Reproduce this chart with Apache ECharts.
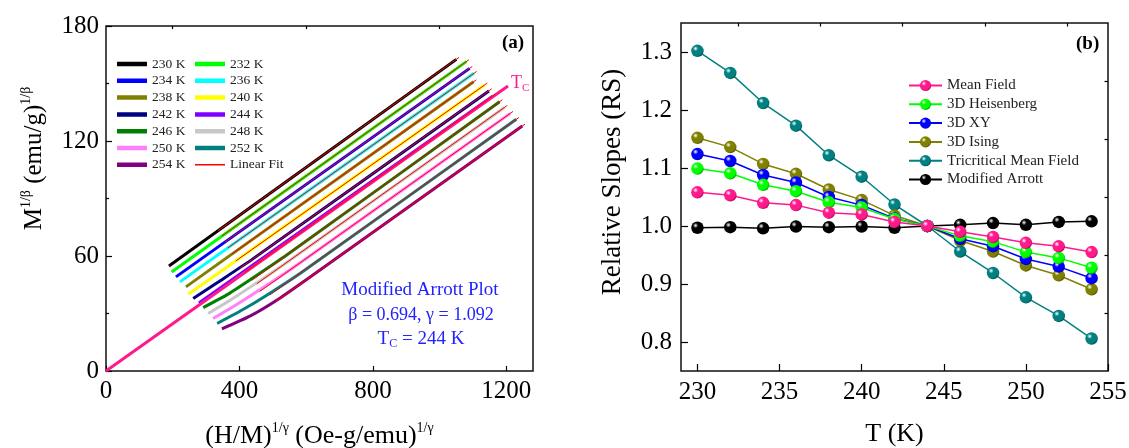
<!DOCTYPE html>
<html>
<head>
<meta charset="utf-8">
<script src="https://cdn.jsdelivr.net/npm/echarts@6/dist/echarts.min.js"></script>
<style>html,body{margin:0;padding:0;background:#fff}#c{width:1129px;height:448px}</style>
</head>
<body>
<div id="c"></div>
<script>
// ---------- Panel (a): Modified Arrott plot ----------
const tempNames = ['230 K','232 K','234 K','236 K','238 K','240 K','242 K','244 K','246 K','248 K','250 K','252 K','254 K'];
const c230 = [[188.7,54.8],[1050.2,162.6]];
const c232 = [[196.7,51.7],[1080.2,161.4]];
const c234 = [[209.6,49.1],[1090.1,157.9]];
const c236 = [[221.6,46.5],[1102.9,155.3]];
const c238 = [[239.6,43.9],[1102.1,150.9]];
const c240 = [[246.5,40.1],[351.3,52.8],[1135.0,149.2]];
const c242 = [[261.4,37.8],[335.4,46.3],[440.2,58.5],[1147.9,146.1]];
const c244 = [[278.5,35.5],[1160.0,143.5]];
const c246 = [[291.4,33.1],[366.3,40.1],[441.1,48.6],[545.9,61.0],[1179.9,140.5]];
const c248 = [[306.4,30.0],[381.2,38.0],[456.1,46.5],[560.9,59.0],[1194.9,137.5]];
const c250 = [[321.0,27.4],[394.3,35.0],[469.2,43.3],[575.9,55.7],[1211.9,134.4]];
const c252 = [[333.3,24.8],[408.2,31.8],[483.0,39.7],[587.9,51.7],[1229.9,131.3]];
const c254 = [[347.4,22.0],[431.2,28.6],[521.1,38.0],[610.9,48.9],[1247.9,127.8]];
const f230 = [[335,73.1],[1058,163.6]];
const f232 = [[347,70.4],[1088,162.4]];
const f234 = [[356,67.2],[1098,158.9]];
const f236 = [[365,64.2],[1111,156.3]];
const f238 = [[377,61.0],[1110,151.9]];
const f240 = [[389,57.4],[1143,150.2]];
const f242 = [[401,53.6],[1156,147.2]];
const f244 = [[416,51.5],[1168,144.5]];
const f246 = [[437,47.3],[1188,141.5]];
const f248 = [[452,45.5],[1203,138.6]];
const f250 = [[461,41.5],[1220,135.4]];
const f252 = [[491,39.7],[1238,132.3]];
const f254 = [[506,35.9],[1256,128.8]];
const tcLine = [[0,0],[1205,148.7]];
const aXTicks = [0,400,800,1200];
const aXMinor = [200,600,1000];

// ---------- Panel (b): Relative slopes ----------
const T = [230,232,234,236,238,240,242,244,246,248,250,252,254];
const meanField   = [1.058,1.053,1.040,1.036,1.023,1.020,1.007,1.000,0.990,0.981,0.971,0.965,0.955];
const heisenberg  = [1.099,1.091,1.071,1.060,1.041,1.032,1.012,1.000,0.983,0.973,0.955,0.945,0.928];
const xy3d        = [1.124,1.112,1.088,1.075,1.050,1.036,1.013,1.000,0.978,0.965,0.943,0.930,0.910];
const ising3d     = [1.152,1.136,1.107,1.090,1.063,1.045,1.018,1.000,0.975,0.956,0.932,0.915,0.891];
const tricritical = [1.302,1.264,1.212,1.173,1.122,1.085,1.037,1.000,0.956,0.919,0.877,0.845,0.806];
const modArrott   = [0.997,0.998,0.996,0.999,0.998,0.999,0.997,1.000,1.002,1.005,1.002,1.007,1.008];
const bXTicks = [230,235,240,245,250,255];
const bXMinor = [232.5,237.5,242.5,247.5,252.5];
const bYTicks = [0.8,0.9,1.0,1.1,1.2,1.3];
const bYMinor = [0.85,0.95,1.05,1.15,1.25];

// ---------- styles ----------
const FONT = '"Liberation Serif","Times New Roman",serif';
const curves = [c230,c232,c234,c236,c238,c240,c242,c244,c246,c248,c250,c252,c254];
const fits = [f230,f232,f234,f236,f238,f240,f242,f244,f246,f248,f250,f252,f254];
const tColors = ['#000000','#00ff00','#0000ff','#00ffff','#808000','#ffff00','#000080','#8000ff','#008000','#c8c8c8','#ff80ff','#008080','#800080'];
const PINK = '#ff1a8c';
const barIcon = 'path://M0,0h0.1M0,14h0.1M0,4.75h30v4.5h-30z';
const thinIcon = 'path://M0,0h0.1M0,14h0.1M0,6.3h30v1.4h-30z';

function ball(c, dark) {
  return {type:'radial', x:0.35, y:0.32, r:0.75, colorStops:[
    {offset:0, color:'#ffffff'}, {offset:0.28, color:c}, {offset:0.75, color:c}, {offset:1, color:dark}]};
}

const series = [];
curves.forEach((d,i) => {
  series.push({type:'line', name: tempNames[i], xAxisIndex:0, yAxisIndex:0, data:d, symbol:'none',
    smooth:0.2, lineStyle:{color:tColors[i], width:3}, itemStyle:{color:tColors[i]}, z:2, silent:true});
});
series.push({type:'line', name:'Tc', xAxisIndex:0, yAxisIndex:0, data:tcLine, symbol:'none',
  lineStyle:{color:PINK, width:3}, itemStyle:{color:PINK}, z:3, silent:true,
  endLabel:{show:true, distance:3, offset:[0,-3], formatter:'{t|T}{s|C}',
    rich:{t:{fontFamily:FONT, fontSize:18, color:PINK, lineHeight:22},
          s:{fontFamily:FONT, fontSize:11, color:PINK, lineHeight:10, verticalAlign:'bottom'}}}});
fits.forEach((d) => {
  series.push({type:'line', name:'Linear Fit', xAxisIndex:0, yAxisIndex:0, data:d, symbol:'none',
    lineStyle:{color:'#ff0000', width:1}, itemStyle:{color:'#ff0000'}, z:4, silent:true});
});

const bSeries = [
  ['Modified Arrott', modArrott, '#000000', '#000000', 2],
  ['Tricritical Mean Field', tricritical, '#008080', '#004848', 3],
  ['3D Ising', ising3d, '#808000', '#474700', 4],
  ['3D XY', xy3d, '#0000ff', '#000090', 5],
  ['3D Heisenberg', heisenberg, '#00ff00', '#009000', 6],
  ['Mean Field', meanField, PINK, '#a0004f', 7]
];
bSeries.forEach(([n, vals, c, dk, z]) => {
  series.push({type:'line', name:n, xAxisIndex:2, yAxisIndex:1,
    data: T.map((t,i)=>[t, vals[i]]), symbol:'circle', symbolSize:12.5,
    lineStyle:{color:c, width:1.5}, itemStyle:{color: ball(c, dk)}, z:z, silent:true});
});

const tickStyle = {color:'#000', width:1.2};
const labelStyle = {color:'#000', fontFamily:FONT, fontSize:25};

const option = {
  animation:false,
  backgroundColor:'#fff',
  grid:[
    {left:106, top:26, width:427, height:345, show:true, borderColor:'#111', borderWidth:1.5, backgroundColor:'transparent', outerBoundsMode:'none', containLabel:false},
    {left:681, top:23, width:427, height:348, show:true, borderColor:'#111', borderWidth:1.5, backgroundColor:'transparent', outerBoundsMode:'none', containLabel:false}
  ],
  xAxis:[
    {type:'value', gridIndex:0, min:0, max:1280, axisLine:{show:false}, splitLine:{show:false},
     axisTick:{inside:true, length:5, lineStyle:tickStyle, customValues:aXTicks},
     axisLabel:{...labelStyle, margin:8, customValues:aXTicks, formatter:(v)=>String(v)},
     name:'{m|(H/M)}{s|1/γ}{m| (Oe-g/emu)}{s|1/γ}', nameLocation:'middle', nameGap:50,
     nameTextStyle:{rich:{m:{fontFamily:FONT, fontSize:26, color:'#000', lineHeight:30},
                          s:{fontFamily:FONT, fontSize:14, color:'#000', lineHeight:12, verticalAlign:'top'}}}},
    {type:'value', gridIndex:0, min:0, max:1280, axisLine:{show:false}, splitLine:{show:false},
     axisTick:{inside:true, length:3, lineStyle:tickStyle, customValues:aXMinor}, axisLabel:{show:false}},
    {type:'value', gridIndex:1, min:229, max:255, axisLine:{show:false}, splitLine:{show:false},
     axisTick:{inside:true, length:7, lineStyle:tickStyle, customValues:bXTicks},
     axisLabel:{...labelStyle, margin:9, customValues:bXTicks},
     name:'T (K)', nameLocation:'middle', nameGap:50,
     nameTextStyle:{fontFamily:FONT, fontSize:26, color:'#000'}},
    {type:'value', gridIndex:1, min:229, max:255, axisLine:{show:false}, splitLine:{show:false},
     axisTick:{inside:true, length:3.5, lineStyle:tickStyle, customValues:bXMinor}, axisLabel:{show:false}}
  ],
  yAxis:[
    {type:'value', gridIndex:0, min:0, max:180, interval:60, axisLine:{show:false}, splitLine:{show:false},
     axisTick:{inside:true, length:6, lineStyle:tickStyle},
     minorTick:{show:true, splitNumber:2, length:3, lineStyle:tickStyle},
     axisLabel:{...labelStyle, margin:7},
     name:'{m|M}{s|1/β}{m| (emu/g)}{s|1/β}', nameLocation:'middle', nameGap:57, nameRotate:90,
     nameTextStyle:{padding:[0,0,0,80], rich:{m:{fontFamily:FONT, fontSize:25, color:'#000', lineHeight:30},
                          s:{fontFamily:FONT, fontSize:14, color:'#000', lineHeight:12, verticalAlign:'top'}}}},
    {type:'value', gridIndex:1, min:0.75, max:1.35, axisLine:{show:false}, splitLine:{show:false},
     axisTick:{inside:true, length:7, lineStyle:tickStyle, customValues:bYTicks},
     axisLabel:{...labelStyle, margin:9, customValues:bYTicks, formatter:(v)=>Number(v).toFixed(1)},
     name:'Relative Slopes (RS)', nameLocation:'middle', nameGap:55, nameRotate:90,
     nameTextStyle:{fontFamily:FONT, fontSize:27, color:'#000', padding:[0,0,0,30]}},
    {type:'value', gridIndex:1, min:0.75, max:1.35, axisLine:{show:false}, splitLine:{show:false},
     axisTick:{inside:true, length:3.5, lineStyle:tickStyle, customValues:bYMinor}, axisLabel:{show:false}}
  ],
  legend:[
    {orient:'vertical', left:112, top:52, itemWidth:30, itemHeight:14, itemGap:2.8, selectedMode:false,
     textStyle:{fontFamily:FONT, fontSize:13.5, color:'#222'}, itemStyle:{borderWidth:0},
     data:['230 K','234 K','238 K','242 K','246 K','250 K','254 K'].map(n=>({name:n, icon:barIcon}))},
    {orient:'vertical', left:190, top:52, itemWidth:30, itemHeight:14, itemGap:2.8, selectedMode:false,
     textStyle:{fontFamily:FONT, fontSize:13.5, color:'#222'}, itemStyle:{borderWidth:0},
     data:['232 K','236 K','240 K','244 K','248 K','252 K'].map(n=>({name:n, icon:barIcon})).concat([{name:'Linear Fit', icon:thinIcon}])},
    {orient:'vertical', left:903, top:73, itemWidth:33, itemHeight:14, itemGap:3.8, selectedMode:false,
     textStyle:{fontFamily:FONT, fontSize:15, color:'#222'},
     data:['Mean Field','3D Heisenberg','3D XY','3D Ising','Tricritical Mean Field','Modified Arrott']}
  ],
  graphic:[
    {type:'text', left:502, top:34, style:{text:'(a)', font:'bold 19px '+FONT, fill:'#000'}},
    {type:'text', left:1076, top:35, style:{text:'(b)', font:'bold 19px '+FONT, fill:'#000'}},
    {type:'text', x:420, y:290, style:{text:'Modified Arrott Plot', font:'19px '+FONT, fill:'#2222ff', align:'center', verticalAlign:'middle'}},
    {type:'text', x:421, y:315, style:{text:'β = 0.694, γ = 1.092', font:'18px '+FONT, fill:'#2222ff', align:'center', verticalAlign:'middle'}},
    {type:'text', x:421, y:339, style:{text:'{n|T}{s|C}{n| = 244 K}', align:'center', verticalAlign:'middle',
      rich:{n:{fontFamily:FONT, fontSize:19, fill:'#2222ff', color:'#2222ff', lineHeight:22},
            s:{fontFamily:FONT, fontSize:12, fill:'#2222ff', color:'#2222ff', lineHeight:10, verticalAlign:'bottom'}}}}
  ],
  series: series
};
const chart = echarts.init(document.getElementById('c'), null, {renderer:'canvas'});
chart.setOption(option);
</script>
</body>
</html>
